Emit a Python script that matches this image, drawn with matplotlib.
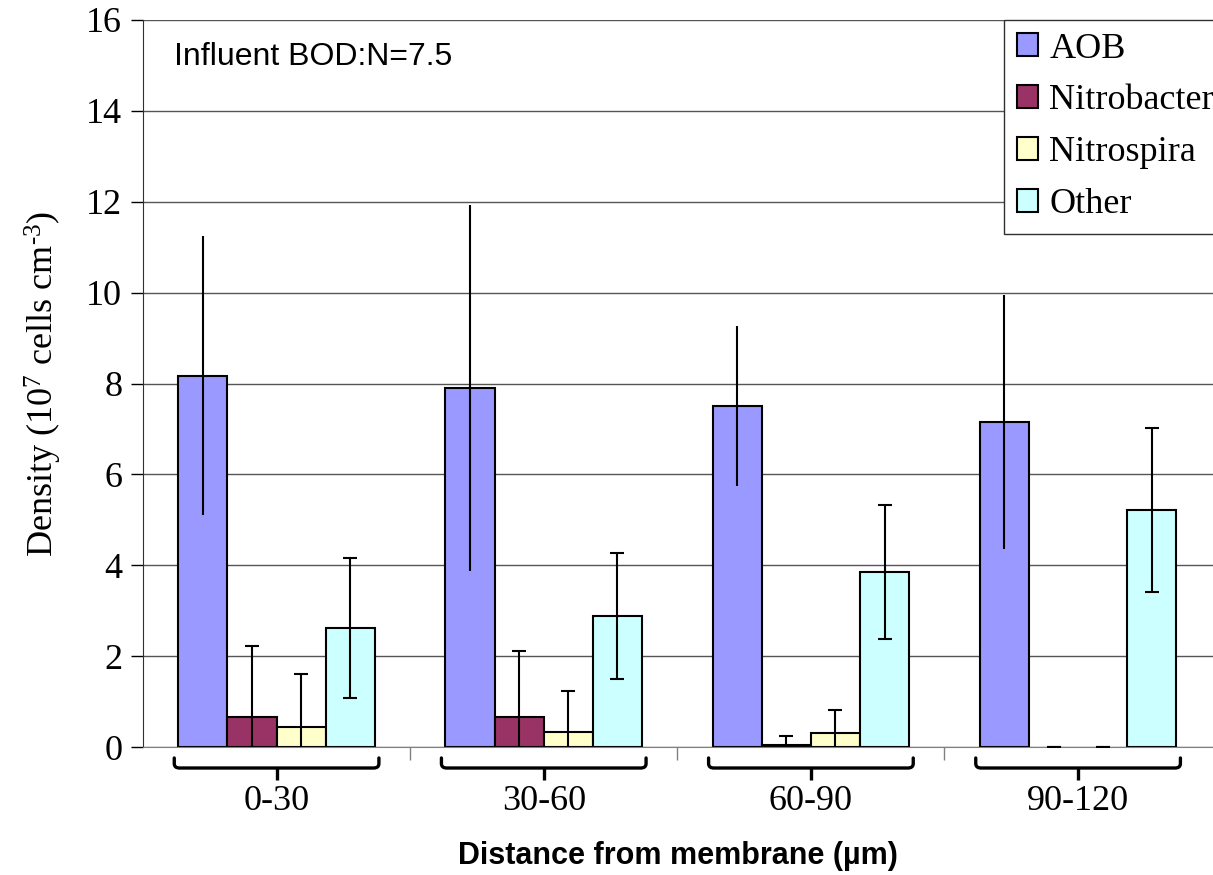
import numpy as np
import matplotlib
matplotlib.use("Agg")
import matplotlib.pyplot as plt
from matplotlib.path import Path
from matplotlib.patches import PathPatch

plt.rcParams['font.family'] = ['Liberation Serif', 'DejaVu Serif']
plt.rcParams['mathtext.fontset'] = 'custom'
plt.rcParams['mathtext.rm'] = 'Liberation Serif'
plt.rcParams['mathtext.default'] = 'regular'

# Data
categories = ["0-30", "30-60", "60-90", "90-120"]
series = ["AOB", "Nitrobacter", "Nitrospira", "Other"]
aob = [8.17, 7.90, 7.50, 7.15]
aob_err = [3.07, 4.02, 1.76, 2.79]
nitrobacter = [0.65, 0.65, 0.05, 0.0]
nitrobacter_err = [1.58, 1.46, 0.19, 0.0]
nitrospira = [0.45, 0.33, 0.30, 0.0]
nitrospira_err = [1.16, 0.91, 0.51, 0.0]
other = [2.61, 2.88, 3.85, 5.22]
other_err = [1.54, 1.38, 1.47, 1.80]
colors = ["#9999FF", "#993366", "#FFFFCC", "#CCFFFF"]

values = [aob, nitrobacter, nitrospira, other]
errors = [aob_err, nitrobacter_err, nitrospira_err, other_err]
capsizes = [0, 4.7, 4.7, 4.7]

W, H = 1213, 875
fig = plt.figure(figsize=(W / 100, H / 100), dpi=100)
ax = fig.add_axes([143 / W, 1 - 747 / H, 1 - 143 / W, (747 - 20) / H])

x = np.arange(len(categories))
bw = 0.184
for i, (name, vals, errs, col, cs) in enumerate(zip(series, values, errors, colors, capsizes)):
    xs = x + (i - 1.5) * bw
    lws = [1.5 if v > 0 else 0 for v in vals]
    ax.bar(xs, vals, width=bw, color=col, edgecolor="black", linewidth=lws,
           label=name, zorder=2)
    ax.errorbar(xs, vals, yerr=errs, fmt="none", ecolor="black",
                elinewidth=1.5, capsize=cs, capthick=1.5, zorder=3)

ax.set_ylim(0, 16)
ax.set_yticks(np.arange(0, 17, 2))
ax.set_xlim(-0.5, 3.505)

# Category boundary ticks and centered labels
ax.set_xticks(np.arange(0.5, 3.5, 1))
ax.set_xticklabels([])
ax.set_xticks(x, minor=True)
ax.set_xticklabels(categories, minor=True)
ax.tick_params(axis="x", which="major", length=9, color="#808080", width=1)
ax.tick_params(axis="x", which="minor", length=0, pad=27, labelsize=26)
ax.tick_params(axis="y", length=9, width=1, labelsize=26, pad=6)

ax.yaxis.grid(True, color="#555555", linewidth=1.0)
ax.set_axisbelow(True)
for s in ["top", "right"]:
    ax.spines[s].set_visible(False)
ax.spines["bottom"].set_color("#808080")
ax.spines["left"].set_color("#303030")

# Braces under each group
trans = ax.get_xaxis_transform()
y_top, y_h, y_bot = -0.0151, -0.0289, -0.0454
ry = 0.006
for xi in x:
    x0 = xi - 2 * bw - 0.015
    x1 = xi + 2 * bw + 0.015
    rx = 0.02
    verts = [(x0, y_top), (x0, y_h + ry), (x0, y_h), (x0 + rx, y_h),
             (x1 - rx, y_h), (x1, y_h), (x1, y_h + ry), (x1, y_top)]
    codes = [Path.MOVETO, Path.LINETO, Path.CURVE3, Path.CURVE3,
             Path.LINETO, Path.CURVE3, Path.CURVE3, Path.LINETO]
    ax.add_patch(PathPatch(Path(verts, codes), transform=trans, fill=False,
                           edgecolor="black", linewidth=2.4, clip_on=False,
                           capstyle="round", joinstyle="round"))
    ax.plot([xi, xi], [y_h, y_bot], transform=trans, color="black",
            linewidth=2.4, clip_on=False, solid_capstyle="butt")

ax.set_ylabel(r"Density (10$^7$ cells cm$^{\text{-}3}$)", fontsize=26, labelpad=16)
ax.set_xlabel("Distance from membrane (µm)", fontsize=22, fontweight="bold",
              family=["Liberation Sans", "DejaVu Sans"], labelpad=17)

ax.text(174 / W, 1 - 57 / H, "Influent BOD:N=7.5", transform=fig.transFigure,
        fontsize=23, family=["Liberation Sans", "DejaVu Sans"], va="center", ha="left")

leg = fig.legend(loc="upper left", bbox_to_anchor=(1004 / W, 1 - 20 / H),
                 bbox_transform=fig.transFigure, fontsize=26, frameon=True,
                 fancybox=False, framealpha=1, edgecolor="#303030",
                 handlelength=0.6, handleheight=0.6, handletextpad=0.3,
                 labelspacing=0.52, borderpad=0.35, borderaxespad=0)
leg.get_frame().set_linewidth(1.0)

fig.savefig("out.png", dpi=100)
